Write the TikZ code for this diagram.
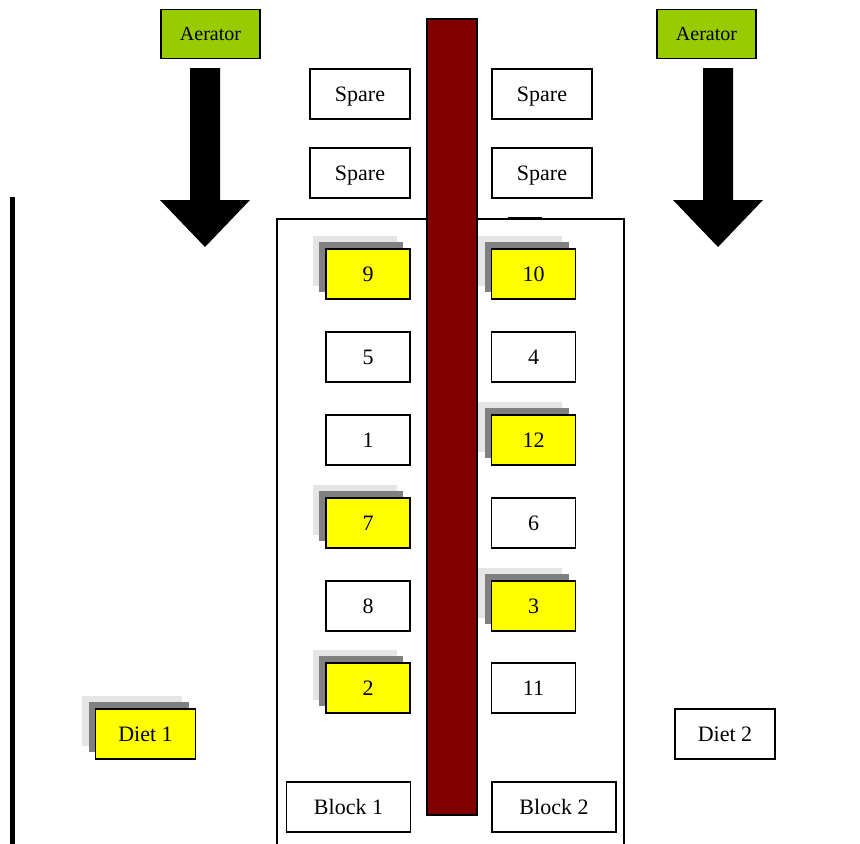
\documentclass[tikz,border=0pt]{standalone}
\usepackage{fontspec}
\setmainfont{Liberation Serif}
\usetikzlibrary{shadows}

\definecolor{aergreen}{HTML}{99CC00}
\definecolor{barred}{HTML}{800000}
\definecolor{hityellow}{HTML}{FFFF00}

\begin{document}
\begin{tikzpicture}[
            x = 0.5pt, y = -0.5pt,
            every node/.style={text depth=0pt, inner sep=0pt, font=\fontsize{11}{13}\selectfont},
            box/.style={draw, line width=0.6pt, fill=white, minimum width=42pt, minimum height=25pt},
            widebox/.style={box, minimum width=50pt},
            blockbox/.style={box, minimum width=62pt},
            aerbox/.style={box, fill=aergreen, minimum width=49.5pt, minimum height=24.5pt, font=\fontsize{10}{12}\selectfont},
            hit/.style={fill=hityellow,
                copy shadow={shadow xshift=-6.75pt, shadow yshift=6.75pt, fill=black!10, draw=none},
                copy shadow={shadow xshift=-3.5pt, shadow yshift=3.5pt, fill=black!50, draw=none}},
            arrowshape/.style={fill=black},
            ]

        \useasboundingbox (0,0) rectangle (860,843);

        % tank outline and left wall
        \draw[line width=0.6pt] (277,850) -- (277,219) -- (624,219) -- (624,850);
        \draw[line width=1.5pt] (508,218.5) -- (542,218.5);
        \draw[line width=2.5pt] (12.5,197) -- (12.5,850);

        % aerators
        \node[aerbox] (aer1) at (210.5,34) {Aerator};
        \node[aerbox] (aer2) at (706.5,34) {Aerator};
        \fill[arrowshape, shift={(205,0)}] (-15,68) -- (15,68) -- (15,200) -- (45,200) -- (0,247) -- (-45,200) -- (-15,200) -- cycle;
        \fill[arrowshape, shift={(718,0)}] (-15,68) -- (15,68) -- (15,200) -- (45,200) -- (0,247) -- (-45,200) -- (-15,200) -- cycle;

        % spares
        \node[widebox] (s1) at (360,94) {Spare};
        \node[widebox] (s2) at (542,94) {Spare};
        \node[widebox] (s3) at (360,173) {Spare};
        \node[widebox] (s4) at (542,173) {Spare};

        % centre bar
        \draw[fill=barred, line width=0.6pt] (427,19) rectangle (477,815);

        % block 1
        \node[box, hit] (9) at (368,274) {9};
        \node[box] (5) at (368,357) {5};
        \node[box] (1) at (368,440) {1};
        \node[box, hit] (7) at (368,523) {7};
        \node[box] (8) at (368,606) {8};
        \node[box, hit] (2) at (368,688) {2};

        % block 2
        \node[box, hit] (10) at (533.5,274) {10};
        \node[box] (4) at (533.5,357) {4};
        \node[box, hit] (12) at (533.5,440) {12};
        \node[box] (6) at (533.5,523) {6};
        \node[box, hit] (3) at (533.5,606) {3};
        \node[box] (11) at (533.5,688) {11};

        % diets and blocks
        \node[widebox, hit] (d1) at (145.5,734) {Diet 1};
        \node[widebox] (d2) at (725,734) {Diet 2};
        \node[blockbox] (b1) at (348.5,807) {Block 1};
        \node[blockbox] (b2) at (554,807) {Block 2};
    \end{tikzpicture}
\end{document}
